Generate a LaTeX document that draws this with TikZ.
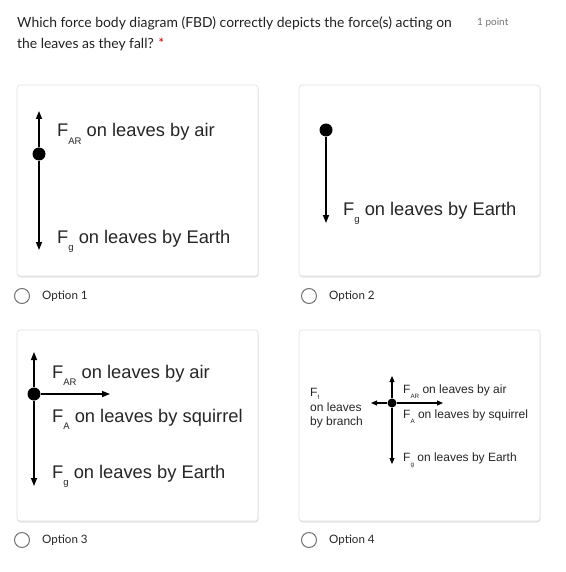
\documentclass[tikz,border=0pt]{standalone}
\usepackage{fontspec}
\setmainfont{Liberation Sans}
\newfontfamily\uifont{Lato}
\usetikzlibrary{arrows.meta}
\newcommand{\subx}[1]{\raisebox{-0.42em}{\fontsize{0.52em}{0.52em}\selectfont #1}}
\newcommand{\subs}[1]{\raisebox{-0.3em}{\fontsize{0.5em}{0.5em}\selectfont #1}}
\begin{document}
\begin{tikzpicture}[x=1pt,y=-1pt,
  card/.style={draw=black!12,fill=white,rounded corners=3pt,line width=0.6pt},
  shadow/.style={fill=black!10,rounded corners=3pt},
  dot/.style={circle,fill=black,inner sep=0pt,minimum size=13pt},
  smalldot/.style={circle,fill=black,inner sep=0pt,minimum size=9pt},
  force/.style={line width=1.4pt,-{Triangle[length=8pt,width=6pt]}},
  smallforce/.style={line width=1.1pt,-{Triangle[length=6pt,width=5pt]}},
  lbl/.style={anchor=base west,inner sep=0pt,font=\fontsize{18.3}{20}\selectfont,text=black!85},
  slbl/.style={anchor=base west,inner sep=0pt,font=\fontsize{12}{13.5}\selectfont,text=black!85},
  radio/.style={circle,draw=black!55,line width=1pt,minimum size=15pt,inner sep=0pt},
  opt/.style={anchor=west,inner sep=0pt,font=\uifont\fontsize{11.6}{14}\selectfont,text=black!85},
  head/.style={anchor=west,inner sep=0pt,font=\uifont\fontsize{13.9}{16}\selectfont,text=black!87}
]
\useasboundingbox (0,0) rectangle (565,572);
\fill[white] (0,0) rectangle (565,572);

% header
\node[head] (q1) at (17,23) {Which force body diagram (FBD) correctly depicts the force(s) acting on};
\node[head] (q2) at (17,44) {the leaves as they fall? \textcolor{red!80!black}{*}};
\node[anchor=west,inner sep=0pt,font=\uifont\fontsize{10}{12}\selectfont,text=black!55] (pts) at (477,23) {1 point};

% cards
\foreach \x/\y in {17/85,299/85,17/330,299/330}{
  \fill[shadow] (\x+0.5,\y+1.5) rectangle (\x+241.5,\y+192.5);
  \draw[card] (\x,\y) rectangle (\x+241,\y+191);
}

% card 1
\node[dot] (d1) at (39,154) {};
\coordinate (t1) at (39,111);
\coordinate (b1) at (39,250);
\draw[force] (d1) -- (t1);
\draw[force] (d1) -- (b1);
\node[lbl] (l1a) at (57,137) {F\subx{AR} on leaves by air};
\node[lbl] (l1b) at (57,243) {F\subx{g} on leaves by Earth};

% card 2
\node[dot] (d2) at (326,130) {};
\coordinate (b2) at (326,223);
\draw[force] (d2) -- (b2);
\node[lbl] (l2a) at (343,215) {F\subx{g} on leaves by Earth};

% card 3
\node[dot] (d3) at (34,394) {};
\coordinate (t3) at (34,352);
\coordinate (b3) at (34,486);
\coordinate (r3) at (110,394);
\draw[force] (d3) -- (t3);
\draw[force] (d3) -- (b3);
\draw[force] (d3) -- (r3);
\node[lbl] (l3a) at (52,378) {F\subx{AR} on leaves by air};
\node[lbl] (l3b) at (52,422) {F\subx{A} on leaves by squirrel};
\node[lbl] (l3c) at (52,478) {F\subx{g} on leaves by Earth};

% card 4
\node[smalldot] (d4) at (392,403) {};
\coordinate (t4) at (392,376);
\coordinate (b4) at (392,464);
\coordinate (l4) at (371,403);
\coordinate (r4) at (443,403);
\draw[smallforce] (d4) -- (t4);
\draw[smallforce] (d4) -- (b4);
\draw[smallforce] (d4) -- (l4);
\draw[smallforce] (d4) -- (r4);
\node[slbl] (l4f) at (310,396) {F\subs{f}};
\node[slbl] (l4f2) at (310,411) {on leaves};
\node[slbl] (l4f3) at (310,425) {by branch};
\node[slbl] (l4a) at (403,393) {F\subx{AR} on leaves by air};
\node[slbl] (l4b) at (403,418) {F\subx{A} on leaves by squirrel};
\node[slbl] (l4c) at (403,461) {F\subx{g} on leaves by Earth};

% options
\node[radio] (r1) at (22,296) {};
\node[opt] (o1) at (42,296) {Option 1};
\node[radio] (r2) at (309,296) {};
\node[opt] (o2) at (329,296) {Option 2};
\node[radio] (r3) at (22,540) {};
\node[opt] (o3) at (42,540) {Option 3};
\node[radio] (r4) at (309,540) {};
\node[opt] (o4) at (329,540) {Option 4};
\end{tikzpicture}
\end{document}
